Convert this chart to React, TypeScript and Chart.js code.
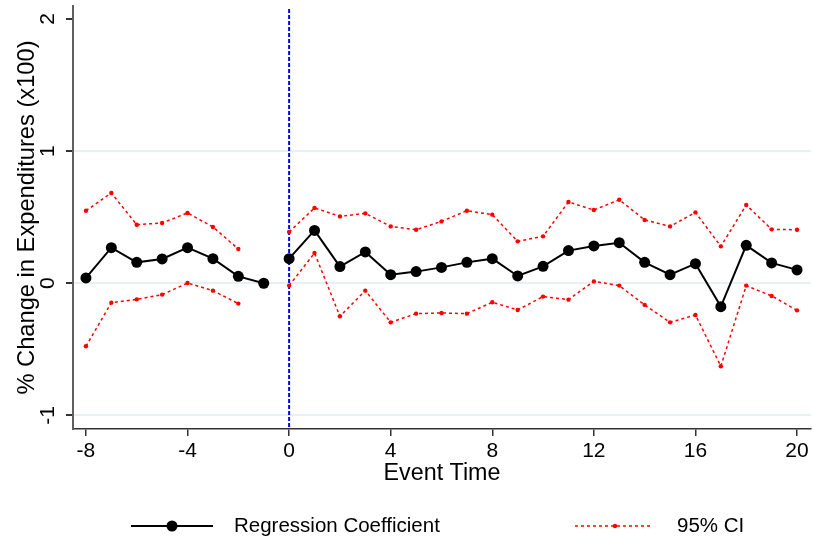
import React, { useEffect, useRef } from "react";
import { Chart, registerables } from "chart.js";

Chart.register(...registerables);

const eventTime = [-8, -7, -6, -5, -4, -3, -2, -1, 0, 1, 2, 3, 4, 5, 6, 7, 8, 9, 10, 11, 12, 13, 14, 15, 16, 17, 18, 19, 20];
const coefficient = [0.040, 0.269, 0.158, 0.184, 0.269, 0.186, 0.052, 0.0, 0.186, 0.400, 0.126, 0.237, 0.065, 0.088, 0.120, 0.158, 0.186, 0.055, 0.128, 0.247, 0.282, 0.307, 0.158, 0.065, 0.148, -0.177, 0.287, 0.154, 0.101];
const upperCI = [0.549, 0.683, 0.443, 0.456, 0.532, 0.426, 0.259, null, 0.388, 0.570, 0.506, 0.529, 0.430, 0.405, 0.468, 0.549, 0.519, 0.317, 0.355, 0.615, 0.554, 0.632, 0.479, 0.430, 0.536, 0.279, 0.592, 0.408, 0.405];
const lowerCI = [-0.477, -0.147, -0.122, -0.086, 0.002, -0.056, -0.154, null, -0.018, 0.229, -0.250, -0.056, -0.296, -0.230, -0.225, -0.230, -0.144, -0.202, -0.101, -0.124, 0.014, -0.018, -0.164, -0.296, -0.240, -0.628, -0.018, -0.096, -0.205];
const xTicks = [-8, -4, 0, 4, 8, 12, 16, 20];
const yTicks = [-1, 0, 1, 2];
const eventLine = 0;
const xTitle = "Event Time";
const yTitle = "% Change in Expenditures (x100)";
const legendLabels = ["Regression Coefficient", "95% CI"];

const FONT = "'Liberation Sans', Arial, sans-serif";

const toPoints = (ys: (number | null)[]) => eventTime.map((x, i) => ({ x, y: ys[i] }));

const decorPlugin = {
  id: "decor",
  beforeDatasetsDraw(chart: any) {
    const { ctx, chartArea, scales } = chart;
    const px = scales.x.getPixelForValue(eventLine);
    ctx.save();
    ctx.strokeStyle = "#0000ff";
    ctx.lineWidth = 2;
    ctx.setLineDash([4, 2]);
    ctx.beginPath();
    ctx.moveTo(px, chartArea.top + 3);
    ctx.lineTo(px, chartArea.bottom);
    ctx.stroke();
    ctx.restore();
  },
  afterDraw(chart: any) {
    const { ctx, chartArea, scales } = chart;
    ctx.save();
    ctx.fillStyle = "#000";
    ctx.font = `21px ${FONT}`;
    ctx.textAlign = "center";
    ctx.textBaseline = "middle";
    yTicks.forEach((v) => {
      const py = scales.y.getPixelForValue(v);
      ctx.save();
      ctx.translate(48, py);
      ctx.rotate(-Math.PI / 2);
      ctx.fillText(String(v), 0, 0);
      ctx.restore();
    });
    xTicks.forEach((v) => {
      const px = scales.x.getPixelForValue(v);
      ctx.fillText(String(v), px, 451);
    });
    ctx.font = `23.3px ${FONT}`;
    ctx.fillText(xTitle, (chartArea.left + chartArea.right) / 2, 474);
    ctx.save();
    ctx.font = `23.7px ${FONT}`;
    ctx.translate(27, (chartArea.top + chartArea.bottom) / 2);
    ctx.rotate(-Math.PI / 2);
    ctx.fillText(yTitle, 0, 0);
    ctx.restore();
    const ly = 526;
    ctx.strokeStyle = "#000";
    ctx.lineWidth = 2;
    ctx.beginPath();
    ctx.moveTo(131, ly);
    ctx.lineTo(213, ly);
    ctx.stroke();
    ctx.beginPath();
    ctx.arc(172, ly, 5.5, 0, Math.PI * 2);
    ctx.fill();
    ctx.strokeStyle = "#ff0000";
    ctx.lineWidth = 1.5;
    ctx.setLineDash([3, 3]);
    ctx.beginPath();
    ctx.moveTo(575, ly);
    ctx.lineTo(651, ly);
    ctx.stroke();
    ctx.setLineDash([]);
    ctx.fillStyle = "#ff0000";
    ctx.beginPath();
    ctx.arc(615, ly, 2.2, 0, Math.PI * 2);
    ctx.fill();
    ctx.fillStyle = "#000";
    ctx.font = `20.5px ${FONT}`;
    ctx.textAlign = "left";
    ctx.fillText(legendLabels[0], 234, ly);
    ctx.fillText(legendLabels[1], 677, ly);
    ctx.restore();
  },
};

export default function App() {
  const ref = useRef<HTMLCanvasElement>(null);
  useEffect(() => {
    document.body.style.margin = "0";
    const canvas = ref.current!;
    const chart = new Chart(canvas, {
      type: "line",
      data: {
        datasets: [
          {
            label: legendLabels[1] + " upper",
            data: toPoints(upperCI),
            borderColor: "#ff0000",
            backgroundColor: "#ff0000",
            borderWidth: 1.5,
            borderDash: [3, 3],
            pointRadius: 2.2,
            pointBorderWidth: 0,
            spanGaps: false,
          },
          {
            label: legendLabels[1] + " lower",
            data: toPoints(lowerCI),
            borderColor: "#ff0000",
            backgroundColor: "#ff0000",
            borderWidth: 1.5,
            borderDash: [3, 3],
            pointRadius: 2.2,
            pointBorderWidth: 0,
            spanGaps: false,
          },
          {
            label: legendLabels[0],
            data: toPoints(coefficient),
            borderColor: "#000000",
            backgroundColor: "#000000",
            borderWidth: 2,
            pointRadius: 5.5,
            pointBorderWidth: 0,
            segment: {
              borderColor: (ctx: any) => (ctx.p0.parsed.x === -1 ? "rgba(0,0,0,0)" : undefined),
            },
          },
        ],
      },
      options: {
        animation: false,
        responsive: false,
        devicePixelRatio: 1,
        layout: { autoPadding: false, padding: { top: 6, right: 2, left: 0, bottom: 0 } },
        plugins: { legend: { display: false }, tooltip: { enabled: false } },
        elements: { line: { tension: 0 } },
        scales: {
          x: {
            type: "linear",
            min: -8.51,
            max: 20.55,
            afterBuildTicks: (s: any) => {
              s.ticks = xTicks.map((v) => ({ value: v }));
            },
            afterFit: (s: any) => {
              s.height = 119;
            },
            ticks: { display: false },
            grid: { drawOnChartArea: false, drawTicks: true, tickLength: 7, tickColor: "#333", lineWidth: 1.5 },
            border: { color: "#333", width: 1.5 },
          },
          y: {
            type: "linear",
            min: -1.103,
            max: 2.098,
            afterBuildTicks: (s: any) => {
              s.ticks = yTicks.map((v) => ({ value: v }));
            },
            afterFit: (s: any) => {
              s.width = 73;
            },
            ticks: { display: false },
            grid: {
              color: (c: any) => (c.tick && c.tick.value === 2 ? "rgba(0,0,0,0)" : "#e9f0f2"),
              lineWidth: 2,
              drawTicks: true,
              tickLength: 7,
              tickColor: "#333",
            },
            border: { color: "#606060", width: 2 },
          },
        },
      },
      plugins: [decorPlugin],
    });
    return () => chart.destroy();
  }, []);
  return <canvas ref={ref} width={813} height={548} style={{ display: "block" }} />;
}
